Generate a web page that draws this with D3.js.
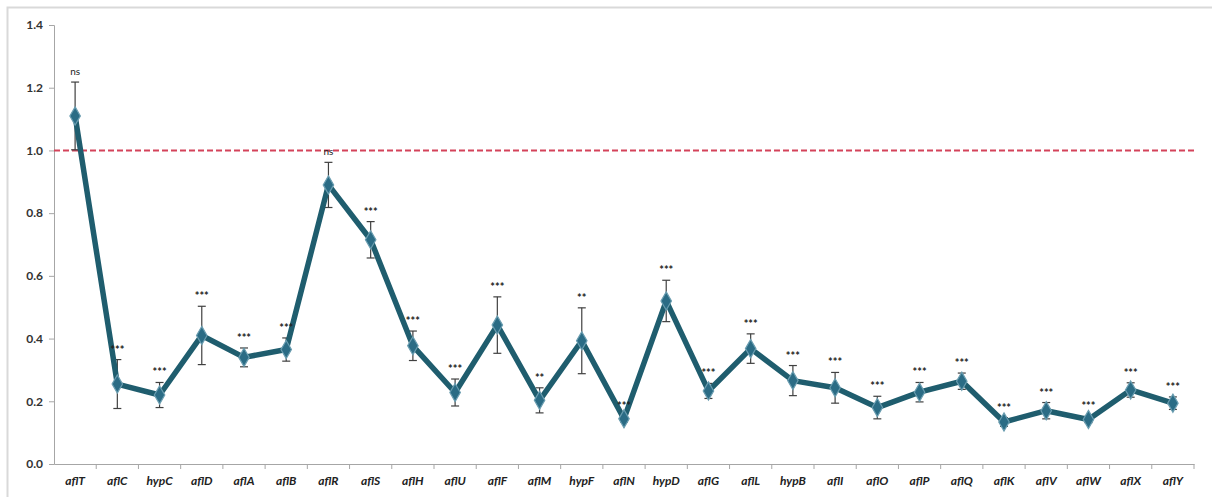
<!DOCTYPE html>
<html><head><meta charset="utf-8">
<script src="https://cdn.jsdelivr.net/npm/d3@7"></script>
<style>html,body{margin:0;padding:0;background:#fff;}svg{display:block;}</style>
</head><body>
<svg id="c" width="1212" height="497"></svg>
<script>
const genes = ["aflT","aflC","hypC","aflD","aflA","aflB","aflR","aflS","aflH","aflU","aflF","aflM","hypF","aflN","hypD","aflG","aflL","hypB","aflI","aflO","aflP","aflQ","aflK","aflV","aflW","aflX","aflY"];
const values = [1.11,0.255,0.22,0.41,0.34,0.365,0.89,0.715,0.377,0.228,0.443,0.203,0.393,0.144,0.52,0.233,0.368,0.266,0.243,0.18,0.229,0.264,0.134,0.17,0.142,0.236,0.194];
const errors = [0.108,0.078,0.04,0.093,0.03,0.037,0.072,0.058,0.047,0.043,0.09,0.04,0.105,0.01,0.066,0.024,0.047,0.048,0.049,0.036,0.031,0.026,0.014,0.026,0.01,0.023,0.02];
const signif = ["ns","***","***","***","***","***","ns","***","***","***","***","**","**","***","***","***","***","***","***","***","***","***","***","***","***","***","***"];
const yTicks = [0,0.2,0.4,0.6,0.8,1.0,1.2,1.4];
const refLevel = 1.0;

const svg = d3.select("#c");
svg.append("rect").attr("x",7.5).attr("y",7.5).attr("width",1220).attr("height",500)
  .attr("fill","none").attr("stroke","#d9d9d9").attr("stroke-width",2);

const x = d3.scaleBand().domain(genes).range([54,1194]);
const y = d3.scaleLinear().domain([0,1.4]).range([464,25]);

// y axis
const ya = svg.append("g").attr("transform","translate(54,0)")
  .call(d3.axisLeft(y).tickValues(yTicks).tickFormat(d3.format(".1f")).tickSize(5));
ya.select(".domain").attr("stroke","#a6a6a6");
ya.selectAll(".tick line").attr("stroke","#a6a6a6");
ya.selectAll("text").attr("font-family","Lato, sans-serif").attr("font-weight","bold")
  .attr("font-size","12px").attr("fill","#333").attr("dx","-3");

// x axis
const xa = svg.append("g").attr("transform","translate(0,464)")
  .call(d3.axisBottom(x).tickSize(0).tickPadding(12));
xa.select(".domain").attr("stroke","#a6a6a6");
xa.selectAll("text").attr("font-family","Lato, sans-serif").attr("font-weight","bold")
  .attr("font-style","italic").attr("font-size","12px").attr("fill","#222");
svg.append("g").selectAll("line").data(genes).join("line")
  .attr("x1",d=>x(d)+x.bandwidth()).attr("x2",d=>x(d)+x.bandwidth())
  .attr("y1",464).attr("y2",469).attr("stroke","#a6a6a6");

// reference line
svg.append("line").attr("x1",54).attr("x2",1194).attr("y1",y(refLevel)).attr("y2",y(refLevel))
  .attr("stroke","#d4435a").attr("stroke-width",2).attr("stroke-dasharray","6,3");

const cx = d => x(d)+x.bandwidth()/2;

// error bars
const eb = svg.append("g").attr("stroke","#404040").attr("stroke-width",1.2);
genes.forEach((g,i)=>{
  const x0 = cx(g), yt = y(values[i]+errors[i]), yb = y(values[i]-errors[i]);
  eb.append("line").attr("x1",x0).attr("x2",x0).attr("y1",yt).attr("y2",yb);
  eb.append("line").attr("x1",x0-4).attr("x2",x0+4).attr("y1",yt).attr("y2",yt);
  eb.append("line").attr("x1",x0-4).attr("x2",x0+4).attr("y1",yb).attr("y2",yb);
});

// line
svg.append("path").datum(genes.map((g,i)=>[cx(g),y(values[i])]))
  .attr("d",d3.line()).attr("fill","none").attr("stroke","#1f5d6e")
  .attr("stroke-width",5.5).attr("stroke-linejoin","round");

// markers
svg.append("g").selectAll("path").data(genes).join("path")
  .attr("transform",(d,i)=>`translate(${cx(d)},${y(values[i])})`)
  .attr("d",d3.symbol().type(d3.symbolDiamond).size(95))
  .attr("fill","#2b6c85").attr("stroke","#6a9db0").attr("stroke-width",1.2);

// significance labels
svg.append("g").selectAll("text").data(genes).join("text")
  .attr("x",d=>cx(d)).attr("y",(d,i)=>y(values[i]+errors[i])-(signif[i]==="ns"?7:6))
  .attr("text-anchor","middle").attr("font-family","Lato, sans-serif")
  .attr("font-size",(d,i)=>signif[i]==="ns"?"10px":"11px")
  .attr("font-weight",(d,i)=>signif[i]==="ns"?"normal":"bold")
  .attr("fill","#222").text((d,i)=>signif[i]);
</script>
</body></html>
